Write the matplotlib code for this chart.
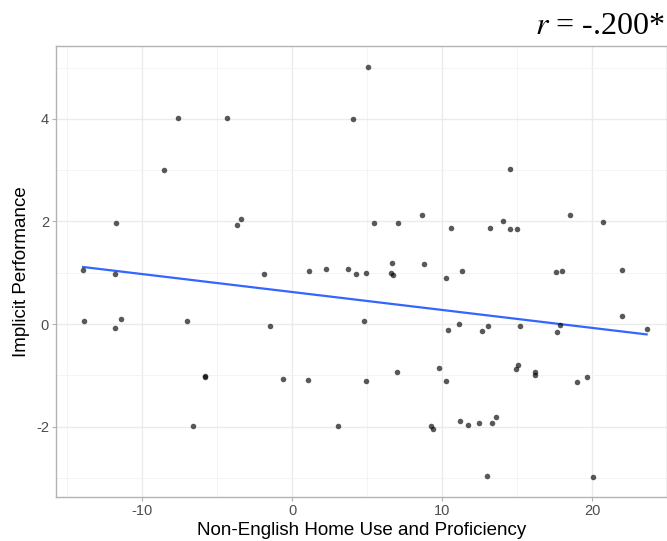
import numpy as np
import matplotlib
matplotlib.use("Agg")
import matplotlib.pyplot as plt
from matplotlib.ticker import MultipleLocator

# values
home_use = [-13.94, -13.89, -11.81, -11.81, -11.41, -11.76, -8.54, -7.58, -6.98, -6.60,
            -5.82, -5.80, -4.34, -3.71, -3.42, -1.91, -1.45, -0.60, 1.03, 1.13,
            2.29, 3.03, 3.72, 4.09, 4.29, 4.76, 4.92, 4.92, 5.05, 5.43,
            6.58, 6.63, 6.72, 6.96, 7.07, 8.67, 8.81, 9.23, 9.41, 9.77,
            10.23, 10.25, 10.41, 10.59, 11.14, 11.21, 11.30, 11.72, 12.43, 12.68,
            13.01, 13.06, 13.21, 13.30, 13.59, 14.08, 14.52, 14.52, 14.92, 14.97,
            15.08, 15.17, 16.17, 16.17, 17.59, 17.64, 17.88, 17.97, 18.53, 19.00,
            19.68, 20.08, 20.71, 22.01, 21.99, 23.64]
implicit = [1.05, 0.06, 0.97, -0.07, 0.10, 1.97, 3.01, 4.01, 0.06, -1.98,
            -1.02, -1.04, 4.01, 1.94, 2.04, 0.97, -0.04, -1.07, -1.08, 1.03,
            1.07, -1.98, 1.08, 4.00, 0.97, 0.06, 0.99, -1.10, 5.01, 1.97,
            0.99, 1.20, 0.96, -0.94, 1.97, 2.12, 1.17, -1.98, -2.04, -0.86,
            -1.10, 0.90, -0.11, 1.88, 0.01, -1.88, 1.03, -1.96, -1.92, -0.13,
            -2.96, -0.03, 1.87, -1.92, -1.81, 2.01, 3.02, 1.85, -0.88, 1.85,
            -0.79, -0.04, -0.94, -0.99, 1.01, -0.15, -0.01, 1.03, 2.12, -1.12,
            -1.03, -2.98, 1.99, 1.06, 0.16, -0.10]
x_label = "Non-English Home Use and Proficiency"
y_label = "Implicit Performance"
r_text = "-.200*"

x = np.array(home_use)
y = np.array(implicit)

plt.rcParams['font.family'] = ['Liberation Sans', 'DejaVu Sans']
plt.rcParams['axes.unicode_minus'] = False
plt.rcParams['mathtext.fontset'] = 'stix'

fig = plt.figure(figsize=(6.67, 5.41), dpi=100)
ax = fig.add_axes([56 / 667, 1 - 497 / 541, 1 - 56 / 667, (497 - 46) / 541])

# linear fit like geom_smooth(method = "lm", se = FALSE)
slope, icpt = np.polyfit(x, y, 1)
xs = np.array([x.min(), x.max()])
ax.plot(xs, icpt + slope * xs, color='#3366FF', lw=1.6, zorder=3)

ax.scatter(x, y, s=16, color='black', alpha=0.65, linewidths=0, zorder=4)

ax.set_xlim(-15.75, 25.0)
ax.set_ylim(-3.37, 5.42)
ax.xaxis.set_major_locator(MultipleLocator(10))
ax.xaxis.set_minor_locator(MultipleLocator(5))
ax.yaxis.set_major_locator(MultipleLocator(2))
ax.yaxis.set_minor_locator(MultipleLocator(1))
ax.grid(which='major', color='#ebebeb', lw=1.0)
ax.grid(which='minor', color='#f3f3f3', lw=0.6)
ax.set_axisbelow(True)

for side in ['left', 'bottom', 'top', 'right']:
    ax.spines[side].set_color('#b3b3b3')
    ax.spines[side].set_linewidth(1.0)

ax.tick_params(which='major', length=3, color='#b3b3b3', labelcolor='#4d4d4d',
               labelsize=10.5, pad=2)
ax.tick_params(which='minor', length=0)

ax.set_xlabel(x_label, fontsize=13.5, color='black', labelpad=3)
ax.set_ylabel(y_label, fontsize=13.5, color='black', labelpad=4)

fig.text(665 / 667, 1 - 34 / 541, r"$r$ = " + r_text, ha='right', va='baseline',
         fontsize=23, family='Liberation Serif')

fig.savefig("out.png", dpi=100)
